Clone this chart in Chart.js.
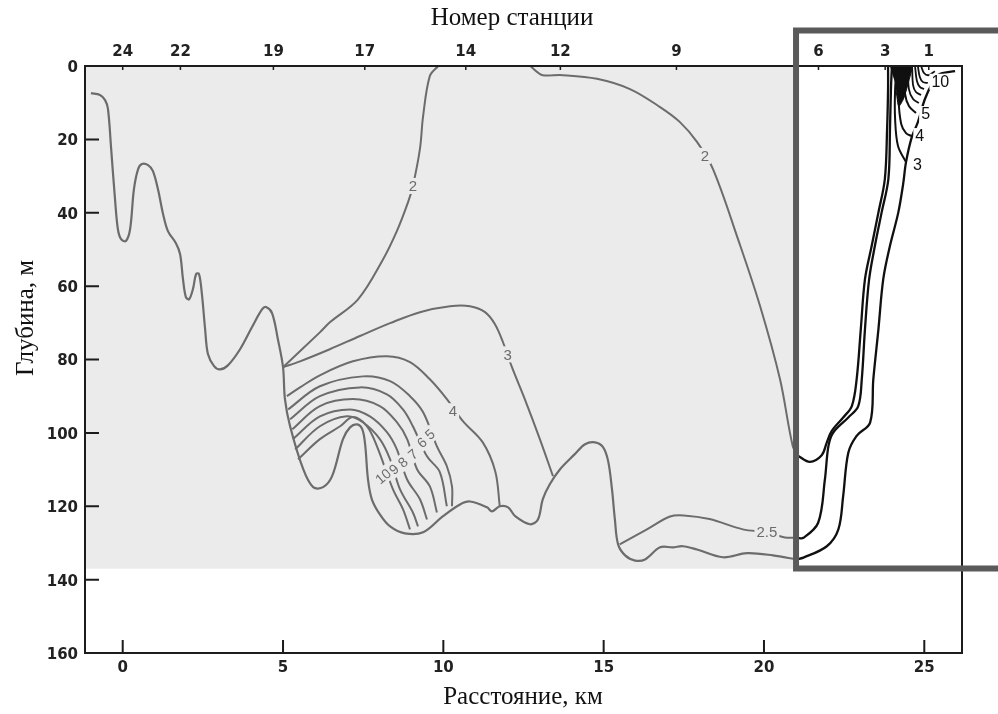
<!DOCTYPE html>
<html lang="ru">
<head>
<meta charset="utf-8">
<title>Разрез по станциям</title>
<script src="https://cdn.jsdelivr.net/npm/chart.js@4.4.1/dist/chart.umd.min.js"></script>
<style>
  html, body { margin: 0; padding: 0; background: #fff; }
  #wrap { width: 998px; height: 714px; }
</style>
</head>
<body>
<div id="wrap"><canvas id="chart" width="998" height="714"></canvas></div>
<script>
// --- Оси ---
const depthTicks = [0, 20, 40, 60, 80, 100, 120, 140, 160];
const distTicks = [0, 5, 10, 15, 20, 25];
const stationLabels = ['24', '22', '19', '17', '14', '12', '9', '6', '3', '1'];
const stationKm = [0, 1.8, 4.7, 7.55, 10.7, 13.65, 17.27, 21.7, 23.78, 25.14];

// серый фон разреза и граница вставки
const shadeEndKm = 21.0;
const shadeDepth = 137;

// --- Рельеф дна (км, м) ---
const bottomLine = [
  [-0.99, 7.4], [-0.71, 7.9], [-0.55, 9.3], [-0.46, 11.7], [-0.36, 22.6], [-0.24, 36.3], [-0.15, 44.5],
  [-0.05, 47.2], [0.1, 47.7], [0.23, 44.5], [0.35, 33.6], [0.48, 28.1], [0.6, 26.7], [0.79, 27.0],
  [0.94, 28.6], [1.1, 33.6], [1.26, 40.4], [1.41, 45], [1.66, 48.3], [1.79, 51.3], [1.88, 58.1],
  [1.97, 63], [2.07, 63.6], [2.19, 60.8], [2.29, 56.7], [2.38, 56.7], [2.47, 62.2], [2.57, 71.7],
  [2.66, 78.6], [2.85, 81.8], [3.03, 82.7], [3.28, 81.6], [3.66, 77.2], [4.03, 71.2], [4.35, 66.3],
  [4.47, 65.7], [4.66, 67.4], [4.84, 74.5], [5.0, 82.1], [5.06, 90.8], [5.22, 98.2], [5.63, 109.9],
  [5.94, 114.8], [6.25, 114.8], [6.53, 111.8], [6.87, 101.7], [7.09, 98.5], [7.31, 97.7], [7.47, 99.0],
  [7.56, 103.1], [7.65, 112.7], [7.77, 118.1], [8.02, 122.2], [8.34, 125.5], [8.8, 127.4], [9.37, 127.1],
  [9.99, 122.7], [10.52, 119.5], [10.83, 118.7], [11.36, 120.3], [11.52, 121.4], [11.76, 120.0],
  [12.02, 120.3], [12.24, 122.7], [12.7, 124.9], [12.95, 123.6], [13.1, 118.1], [13.32, 114.0],
  [13.64, 109.9], [14.1, 105.8], [14.42, 103.1], [14.73, 102.6], [14.98, 103.9], [15.14, 107.7],
  [15.26, 115.4], [15.35, 123.6], [15.45, 130.4], [15.67, 133.4], [15.98, 134.8], [16.29, 134.5],
  [16.76, 131.2], [17.16, 131.2], [17.47, 130.9], [17.91, 131.8], [18.72, 133.9], [19.47, 132.8],
  [20.28, 133.4], [21.02, 134.5]
];

// --- Изолинии (серая часть) ---
const iso2West = [[9.84, 0], [9.58, 2.7], [9.37, 13.6], [9.27, 22.6], [9.05, 32.7], [8.9, 37.1], [8.55, 45.0],
  [8.1, 53.0], [7.34, 63.6], [6.47, 69.8], [6.15, 72.6], [5.0, 82.1]];
const iso2East = [[12.71, 0], [12.92, 1.6], [13.1, 2.5], [13.73, 2.5], [14.79, 3.5], [15.82, 6.3], [16.76, 11.2],
  [17.38, 15.3], [17.91, 20.7], [18.41, 28.1], [19.19, 47.2], [19.88, 65.5], [20.5, 85.4], [20.9, 103.7], [21.07, 106.3]];
const iso25 = [[15.5, 130.4], [16.35, 126.3], [17.07, 122.8], [17.5, 122.5], [18.3, 123.5], [19.34, 126.3],
  [20.09, 127.1], [20.65, 128.5], [21.03, 128.6]];
const iso3 = [[5.0, 82.1], [5.53, 80.5], [6.46, 77.2], [7.4, 73.6], [8.34, 70.1], [9.27, 67.1], [10.21, 65.5],
  [10.83, 65.5], [11.3, 67.1], [11.61, 70.4], [11.86, 75.3], [12.14, 82.1], [12.54, 90.8], [13.01, 101.7], [13.42, 111.8]];
const iso4 = [[5.12, 90.0], [5.53, 87.6], [6.15, 84.3], [7.18, 80.5], [8.24, 79.1], [8.96, 80.7], [9.58, 85.4],
  [10.11, 90.8], [10.61, 96.8], [11.23, 102.6], [11.62, 110.5], [11.76, 120.0]];
const iso5 = [[5.16, 93.6], [6.15, 87.3], [7.49, 84.6], [8.34, 85.9], [8.96, 90.0], [9.37, 94.4], [9.8, 103.7],
  [10.11, 109.1], [10.27, 114.6], [10.27, 120.0]];
const iso6 = [[5.22, 96.3], [6.15, 90.0], [7.4, 87.6], [8.24, 89.5], [8.74, 93.6], [9.05, 98.2], [9.49, 106.4],
  [9.89, 110.7], [10.11, 120.0]];
const iso7 = [[5.29, 99.0], [6.15, 92.7], [7.18, 90.8], [8.02, 92.7], [8.55, 97.1], [8.87, 101.7], [9.18, 109.9],
  [9.58, 114.6], [9.8, 121.7]];
const iso8 = [[5.31, 101.7], [6.15, 95.5], [7.09, 93.6], [7.71, 95.5], [8.24, 99.8], [8.55, 104.5], [8.87, 112.7],
  [9.27, 118.1], [9.49, 123.6]];
const iso9 = [[5.38, 104.5], [6.15, 98.2], [6.99, 95.5], [7.49, 97.1], [8.02, 101.7], [8.34, 107.2], [8.65, 115.4],
  [9.05, 121.7], [9.21, 125.5]];
const iso10 = [[5.47, 107.2], [6.15, 101.7], [6.78, 98.2], [7.18, 95.7], [7.62, 98.2], [7.93, 103.7], [8.43, 115.4],
  [8.74, 120.8], [8.96, 126.3]];

// --- Вставка у берега (чёрные линии) ---
const insetBottom = [[21.02, 134.5], [21.23, 134.0], [21.96, 130.9], [22.32, 126.3], [22.47, 117.2], [22.63, 105.4],
  [22.89, 100.8], [23.31, 97.2], [23.41, 85.4], [23.57, 71.7], [23.72, 58.1], [23.93, 49.0], [24.19, 39.9],
  [24.34, 32.2], [24.43, 26.2], [24.61, 19.4], [24.8, 15.3], [25.02, 9.0], [25.27, 4.4], [25.48, 2.2], [25.96, 1.4]];
const inset2 = [[21.07, 106.3], [21.43, 107.9], [21.8, 106.1], [21.96, 102.6], [22.11, 99.5], [22.47, 95.8],
  [22.74, 92.7], [22.89, 85.4], [23.02, 71.7], [23.15, 58.1], [23.36, 49.0], [23.57, 39.9], [23.77, 30.8],
  [23.84, 17.2], [23.87, 6.3], [23.87, 0]];
const inset25 = [[21.03, 128.6], [21.23, 128.6], [21.69, 124.5], [21.9, 112.7], [22.01, 103.6], [22.16, 99.9],
  [22.63, 95.8], [22.94, 92.7], [23.05, 85.4], [23.15, 71.7], [23.28, 58.1], [23.46, 49.0], [23.67, 39.9],
  [23.88, 30.8], [23.93, 17.2], [23.96, 6.3], [23.99, 0]];
const inset3 = [[24.15, 0], [24.09, 6.3], [24.09, 14.5], [24.18, 21.8], [24.43, 26.2]];
const inset4 = [[24.24, 0], [24.2, 9], [24.28, 15.8], [24.43, 18.3], [24.61, 19.1]];
const inset5 = [[24.37, 0], [24.4, 7.6], [24.52, 10.9], [24.74, 12.8]];
const inset6 = [[24.49, 0], [24.52, 6.3], [24.65, 9.0], [24.83, 10.1]];
const inset7 = [[24.62, 0], [24.65, 5.2], [24.74, 7.1], [24.9, 7.9]];
const inset8 = [[24.71, 0], [24.77, 4.1], [24.86, 5.7], [24.99, 6.3]];
const inset9 = [[24.8, 0], [24.86, 3.0], [24.96, 4.4], [25.11, 4.6]];
const inset10 = [[24.9, 0], [24.99, 1.9], [25.14, 2.5], [25.33, 1.4]];
const insetCore = [[23.93, 0], [24.6, 0], [24.52, 4], [24.35, 9], [24.2, 11], [24.1, 5]];

// --- Подписи изолиний ---
const greyLabelText = ['2', '2', '3', '4', '2.5'];
const greyLabelKm = [9.05, 18.16, 12.01, 10.3, 20.09];
const greyLabelDepth = [32.7, 24.5, 78.6, 94.1, 127.1];
const fanLabelText = ['10', '9', '8', '7', '6', '5'];
const fanLabelKm = [8.12, 8.46, 8.74, 9.05, 9.33, 9.58];
const fanLabelDepth = [111.8, 109.9, 108.0, 105.8, 102.6, 100.4];
const insetLabelText = ['10', '5', '4', '3'];
const insetLabelKm = [25.5, 25.04, 24.86, 24.79];
const insetLabelDepth = [4.3, 13.1, 19.1, 27.0];

const GREY = '#6c6c6c';
const INK = '#101010';
const SHADE = '#ebebeb';
const FRAME = '#1c1c1c';

function line(points, color, width) {
  return {
    data: points.map(([x, y]) => ({ x, y })),
    borderColor: color,
    borderWidth: width,
    pointRadius: 0,
    showLine: true,
    fill: false,
    tension: 0.35,
    clip: 4
  };
}

const datasets = [
  line(bottomLine, GREY, 2.2),
  line(iso2West, GREY, 2), line(iso2East, GREY, 2), line(iso25, GREY, 2), line(iso3, GREY, 2),
  line(iso4, GREY, 2), line(iso5, GREY, 2), line(iso6, GREY, 2), line(iso7, GREY, 2),
  line(iso8, GREY, 2), line(iso9, GREY, 2), line(iso10, GREY, 2),
  line(insetBottom, INK, 2.3), line(inset2, INK, 2.3), line(inset25, INK, 2.3),
  line(inset3, INK, 2), line(inset4, INK, 2), line(inset5, INK, 2), line(inset6, INK, 1.8),
  line(inset7, INK, 1.8), line(inset8, INK, 1.8), line(inset9, INK, 1.8), line(inset10, INK, 1.8),
  Object.assign(line(insetCore, INK, 1), { fill: 'shape', backgroundColor: INK, tension: 0.2 })
];

// подпись с "разрывом" линии под ней
function maskedText(ctx, text, px, py, bg, color, font, angle) {
  ctx.save();
  ctx.translate(px, py);
  ctx.rotate(angle || 0);
  ctx.font = font;
  const w = ctx.measureText(text).width;
  ctx.fillStyle = bg;
  ctx.fillRect(-w / 2 - 2, -8, w + 4, 16);
  ctx.fillStyle = color;
  ctx.textAlign = 'center';
  ctx.textBaseline = 'middle';
  ctx.fillText(text, 0, 1);
  ctx.restore();
}

const sectionDecor = {
  id: 'sectionDecor',
  beforeDatasetsDraw(chart) {
    const { ctx, scales: { x, y }, chartArea } = chart;
    const r = x.getPixelForValue(shadeEndKm) - 3;
    const b = y.getPixelForValue(shadeDepth);
    ctx.save();
    ctx.fillStyle = SHADE;
    ctx.fillRect(chartArea.left, chartArea.top, r - chartArea.left, b - chartArea.top);
    ctx.restore();
  },
  afterDatasetsDraw(chart) {
    const { ctx, scales: { x, y }, chartArea: a } = chart;

    // подписи изолиний
    const greyFont = '15px "Liberation Sans"';
    greyLabelText.forEach((t, i) => {
      maskedText(ctx, t, x.getPixelForValue(greyLabelKm[i]), y.getPixelForValue(greyLabelDepth[i]), SHADE, GREY, greyFont, 0);
    });
    fanLabelText.forEach((t, i) => {
      maskedText(ctx, t, x.getPixelForValue(fanLabelKm[i]), y.getPixelForValue(fanLabelDepth[i]), SHADE, GREY,
        '14px "Liberation Sans"', -0.7);
    });
    insetLabelText.forEach((t, i) => {
      maskedText(ctx, t, x.getPixelForValue(insetLabelKm[i]), y.getPixelForValue(insetLabelDepth[i]), '#fff', INK,
        '16px "Liberation Sans"', 0);
    });

    // рамка
    ctx.save();
    ctx.strokeStyle = FRAME;
    ctx.lineWidth = 2;
    ctx.strokeRect(a.left, a.top, a.right - a.left, a.bottom - a.top);

    // деления
    ctx.beginPath();
    depthTicks.forEach(d => {
      if (d === 0 || d === 160) return;
      const py = y.getPixelForValue(d);
      ctx.moveTo(a.left, py); ctx.lineTo(a.left + 14, py);
    });
    distTicks.forEach(k => {
      const px = x.getPixelForValue(k);
      ctx.moveTo(px, a.bottom); ctx.lineTo(px, a.bottom - 13);
    });
    ctx.stroke();
    ctx.lineWidth = 1.5;
    ctx.beginPath();
    stationKm.forEach(k => {
      const px = x.getPixelForValue(k);
      ctx.moveTo(px, a.top); ctx.lineTo(px, a.top + 4);
    });
    ctx.stroke();

    // подписи делений
    ctx.fillStyle = '#222';
    ctx.font = 'bold 15px "DejaVu Sans"';
    ctx.textBaseline = 'middle';
    ctx.textAlign = 'right';
    depthTicks.forEach(d => ctx.fillText(String(d), a.left - 7, y.getPixelForValue(d) + 2));
    ctx.textAlign = 'center';
    distTicks.forEach(k => ctx.fillText(String(k), x.getPixelForValue(k), a.bottom + 15));
    stationLabels.forEach((s, i) => ctx.fillText(s, x.getPixelForValue(stationKm[i]), a.top - 14));

    // названия осей
    ctx.fillStyle = '#111';
    ctx.font = '25px "Liberation Serif"';
    ctx.fillText('Номер станции', 512, 18);
    ctx.fillText('Расстояние, км', 523, 697);
    ctx.save();
    ctx.translate(26, 318);
    ctx.rotate(-Math.PI / 2);
    ctx.fillText('Глубина, м', 0, 0);
    ctx.restore();

    // рамка вставки
    const bl = x.getPixelForValue(shadeEndKm);
    const bb = y.getPixelForValue(shadeDepth);
    ctx.strokeStyle = '#5a5a5a';
    ctx.lineWidth = 6;
    ctx.lineJoin = 'miter';
    ctx.beginPath();
    ctx.moveTo(1010, 30.5);
    ctx.lineTo(bl, 30.5);
    ctx.lineTo(bl, bb);
    ctx.lineTo(1010, bb);
    ctx.stroke();
    ctx.restore();
  }
};

new Chart(document.getElementById('chart'), {
  type: 'scatter',
  data: { datasets },
  options: {
    responsive: false,
    animation: false,
    devicePixelRatio: 1,
    events: [],
    layout: { padding: { left: 85, right: 36, top: 66, bottom: 61 } },
    plugins: { legend: { display: false }, tooltip: { enabled: false } },
    scales: {
      x: { type: 'linear', min: -1.176, max: 26.176, display: false },
      y: { type: 'linear', min: 0, max: 160, reverse: true, display: false }
    }
  },
  plugins: [sectionDecor]
});
</script>
</body>
</html>
